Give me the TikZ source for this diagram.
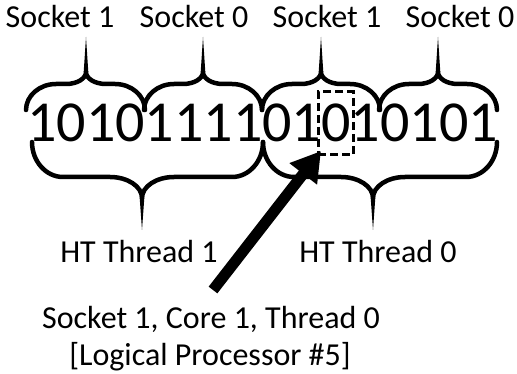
\documentclass[tikz,border=0pt]{standalone}
\usepackage{fontspec}
\setmainfont{Carlito}
\usetikzlibrary{arrows.meta}

% Curly brace: #1 left end x, #2 tip x, #3 right end x,
% #4 end y, #5 arm y, #6 junction y, #7 tip y, #8 end radius, #9 middle radius
\newcommand\curlybrace[9]{%
  \draw[bracearm] (#1,#4)
    .. controls (#1,{#4+0.55*(#5-#4)}) and ({#1+0.45*#8},#5) .. ({#1+#8},#5)
    -- ({#2-#9},#5)
    .. controls ({#2-0.45*#9},#5) and (#2,{#6-0.55*(#6-#5)}) .. (#2,#6)
    .. controls (#2,{#6-0.55*(#6-#5)}) and ({#2+0.45*#9},#5) .. ({#2+#9},#5)
    -- ({#3-#8},#5)
    .. controls ({#3-0.45*#8},#5) and (#3,{#4+0.55*(#5-#4)}) .. (#3,#4);
  \fill ({#2-2.3},#6) -- (#2,#7) -- ({#2+2.3},#6) -- cycle;
}

\begin{document}
\begin{tikzpicture}[x=1pt,y=-1pt,
  bracearm/.style={line width=4.5pt,line join=round,line cap=round},
  label/.style={inner sep=0pt,anchor=base,font=\fontsize{32}{38}\selectfont},
  bits/.style={inner sep=0pt,anchor=base,font=\fontsize{58}{64}\selectfont},
  bitbox/.style={draw,line width=3pt,dash pattern=on 8pt off 4pt,
    minimum width=35pt,minimum height=63pt,inner sep=0pt},
  pointer/.style={line width=11pt,-{Triangle[length=29pt,width=33pt]}}]
\useasboundingbox (0,0) rectangle (517,374);

% socket labels
\node[label] (s1a) at (60,28) {Socket 1};
\node[label] (s0a) at (194,28) {Socket 0};
\node[label] (s1b) at (327,28) {Socket 1};
\node[label] (s0b) at (460,28) {Socket 0};

% upper braces (socket groups)
\curlybrace{26}{86}{145}{110}{84}{72}{37}{30}{20}
\curlybrace{144}{203}{262}{110}{84}{72}{37}{30}{20}
\curlybrace{262}{321}{380}{110}{84}{72}{37}{30}{20}
\curlybrace{379}{438}{497}{110}{84}{72}{37}{30}{20}

% the bit string
\node[bits] (mask) at (262.5,142) {1010111101010101};

% highlighted bit
\node[bitbox] (bit) at (335.5,123.5) {};

% lower braces (thread halves)
\curlybrace{32}{142}{263}{142}{177}{198}{230}{31}{32}
\curlybrace{263}{373}{497}{142}{177}{198}{230}{31}{32}

% thread labels
\node[label] (ht1) at (139,262) {HT Thread 1};
\node[label] (ht0) at (378,262) {HT Thread 0};

% description of the highlighted bit
\node[label] (desc) at (211,328) {Socket 1, Core 1, Thread 0};
\node[label] (lp) at (210,365) {[Logical Processor \#5]};

% pointer arrow
\coordinate (tail) at (213,290);
\coordinate (tip) at (321,151);
\draw[pointer] (tail) -- (tip);
\end{tikzpicture}
\end{document}
